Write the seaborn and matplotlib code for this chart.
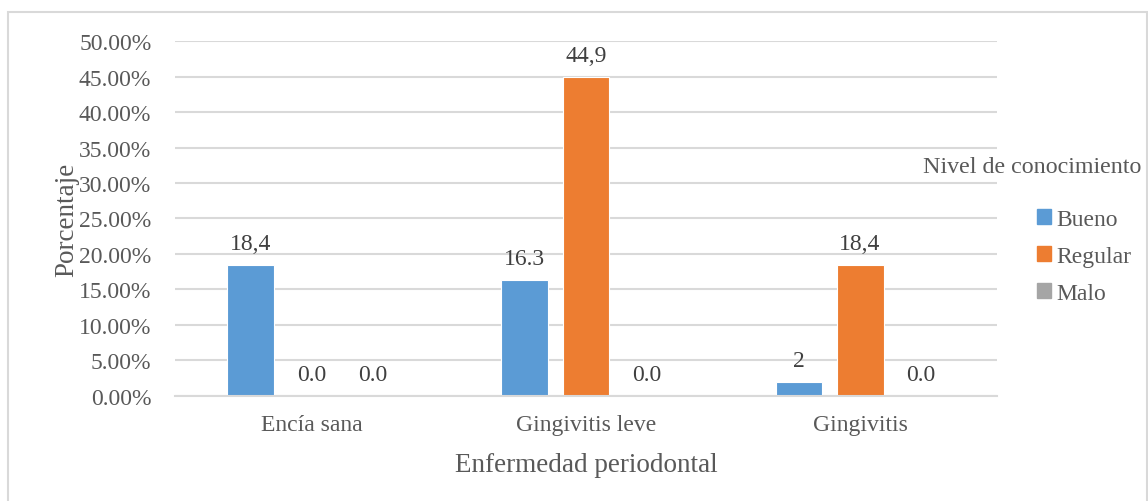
import matplotlib
matplotlib.use('Agg')
import matplotlib.pyplot as plt
import matplotlib.patches as mpatches
import matplotlib.ticker as mtick
import numpy as np
import pandas as pd
import seaborn as sns

categorias = ['Encía sana', 'Gingivitis leve', 'Gingivitis']
niveles = ['Bueno', 'Regular', 'Malo']
bueno = [18.4, 16.3, 2.0]
regular = [0.0, 44.9, 18.4]
malo = [0.0, 0.0, 0.0]
etiquetas = {
    'Bueno': ['18,4', '16.3', '2'],
    'Regular': ['0.0', '44,9', '18,4'],
    'Malo': ['0.0', '0.0', '0.0'],
}
colores = ['#5b9bd5', '#ed7d31', '#a5a5a5']

df = pd.DataFrame({
    'Enfermedad': categorias * 3,
    'Nivel': [n for n in niveles for _ in categorias],
    'Porcentaje': np.array(bueno + regular + malo) / 100,
})

sns.set_style('white')
plt.rcParams['font.family'] = ['Liberation Serif', 'DejaVu Serif']
gris = '#595959'

fig = plt.figure(figsize=(11.48, 5.02), dpi=100)
ax = fig.add_axes([0.1524, 0.2092, 0.7161, 0.7071])
sns.barplot(data=df, x='Enfermedad', y='Porcentaje', hue='Nivel',
            hue_order=niveles, palette=colores, saturation=1,
            width=0.668, gap=0.23, edgecolor='white', linewidth=0.8,
            ax=ax, legend=False)

for cont, nivel in zip(ax.containers, niveles):
    ax.bar_label(cont, labels=etiquetas[nivel], padding=8, fontsize=17,
                 color='#404040')

ax.set_ylim(0, 0.5)
ax.set_xlim(-0.5, 2.5)
ax.yaxis.set_major_locator(mtick.MultipleLocator(0.05))
ax.yaxis.set_major_formatter(mtick.PercentFormatter(1.0, decimals=2))
ax.grid(axis='y', color='#d9d9d9', linewidth=1.5)
ax.set_axisbelow(True)
for s in ['top', 'right', 'left']:
    ax.spines[s].set_visible(False)
ax.spines['bottom'].set_color('#d9d9d9')
ax.spines['bottom'].set_linewidth(1.5)
ax.tick_params(axis='both', length=0, labelsize=17, colors=gris)
ax.tick_params(axis='x', pad=13)
ax.tick_params(axis='y', pad=17)
ax.set_xlabel('Enfermedad periodontal', fontsize=19.5, color=gris, labelpad=12)
ax.set_ylabel('Porcentaje', fontsize=19.5, color=gris, labelpad=0)

handles = [mpatches.Patch(color=c, label=n) for c, n in zip(colores, niveles)]
leg = fig.legend(handles=handles, loc='upper left',
                 bbox_to_anchor=(0.889, 0.615), frameon=False, fontsize=17,
                 handlelength=0.6, handleheight=0.6, handletextpad=0.2,
                 labelspacing=0.68, labelcolor=gris, borderpad=0.2)
fig.text(0.994, 0.667, 'Nivel de conocimiento', ha='right', va='center',
         fontsize=17.3, color=gris)

fig.add_artist(mpatches.Rectangle((8 / 1148, -0.02), 1139 / 1148, 0.995,
                                  transform=fig.transFigure, fill=False,
                                  edgecolor='#d9d9d9', linewidth=1.5))

fig.savefig('out.png', dpi=100)
